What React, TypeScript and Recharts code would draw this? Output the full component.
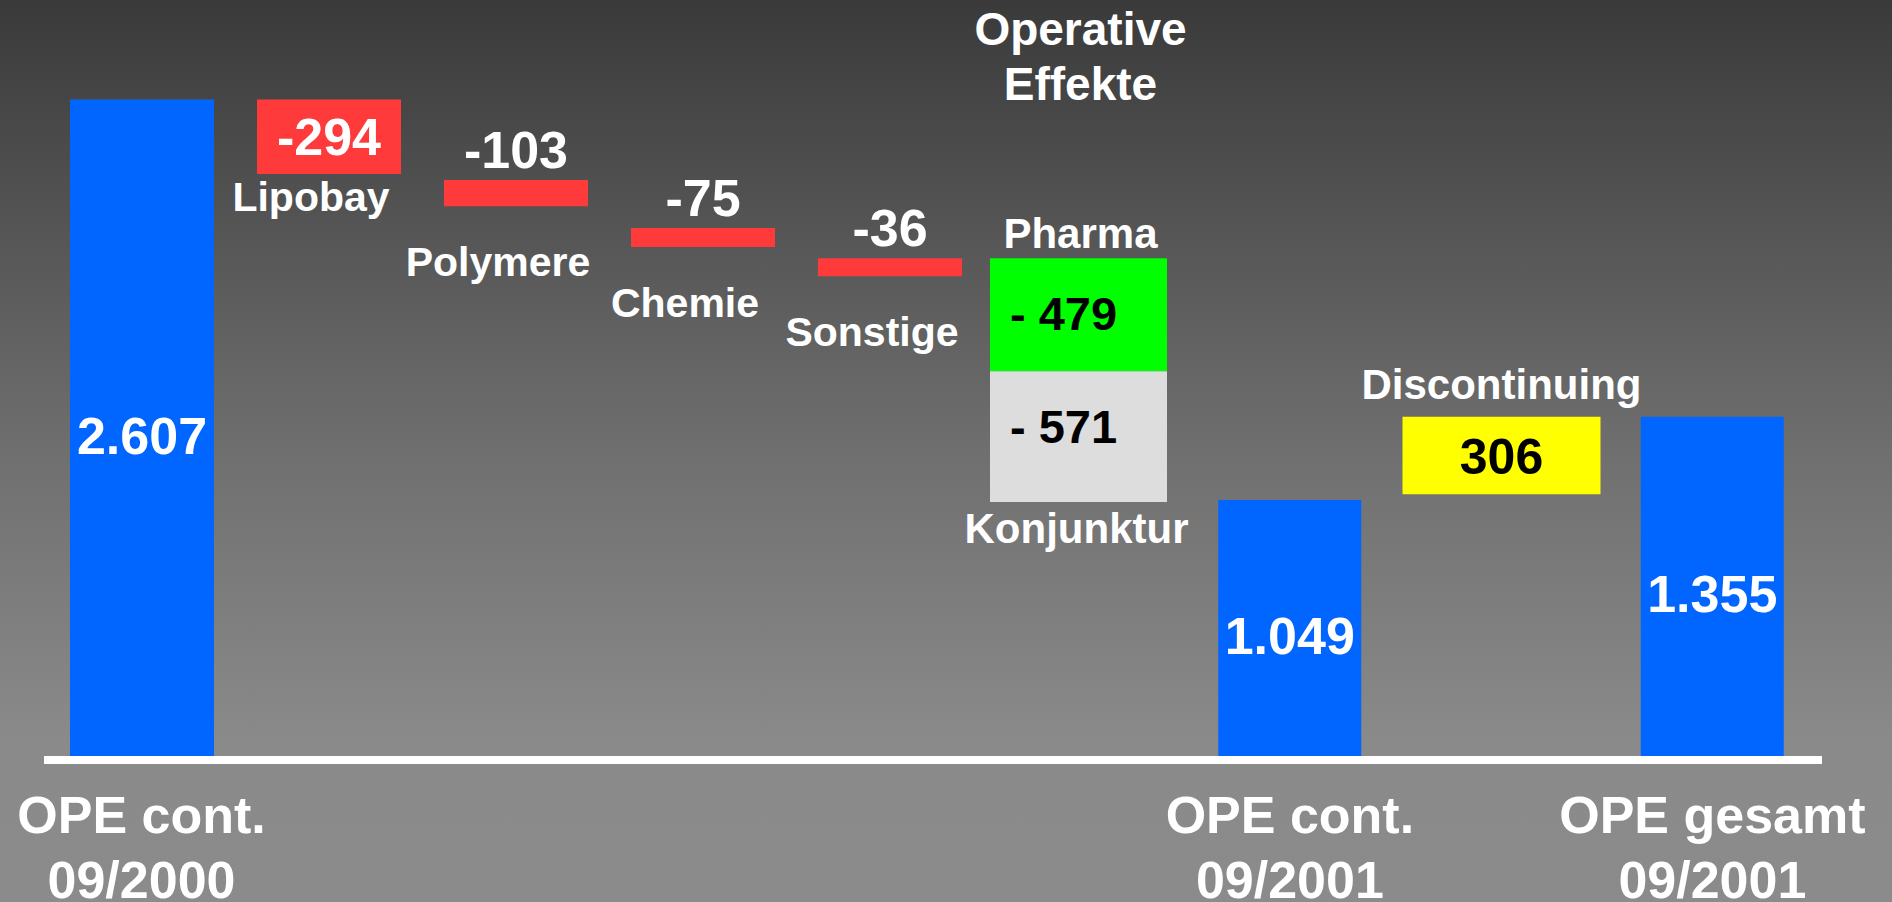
import React from 'react';
import { BarChart, Bar, XAxis, YAxis, Cell, LabelList } from 'recharts';

// ---------- data ----------
const leftCategories = ['OPE cont. 09/2000', 'Lipobay', 'Polymere', 'Chemie', 'Sonstige'];
const leftLow = [0, 2313, 2186, 2025, 1910];
const leftHigh = [2607, 2607, 2289, 2100, 1981];
const leftValueText = ['2.607', '-294', '-103', '-75', '-36'];
const leftCaptions = ['', 'Lipobay', 'Polymere', 'Chemie', 'Sonstige'];
const leftTickLines = [['OPE cont.', '09/2000'], [], [], [], []];

const rightCategories = ['Operative Effekte', 'OPE cont. 09/2001', 'Discontinuing', 'OPE gesamt 09/2001'];
const pharmaRange = [[1535, 1981], null, null, null];
const konjunkturRange = [[1018, 1535], null, null, null];
const blueRange = [null, [0, 1026], null, [0, 1355]];
const discontinuingRange = [null, null, [1049, 1355], null];
const pharmaText = ['- 479', null, null, null];
const pharmaCaption = ['Pharma', null, null, null];
const konjunkturText = ['- 571', null, null, null];
const konjunkturCaption = ['Konjunktur', null, null, null];
const blueText = [null, '1.049', null, '1.355'];
const discontinuingText = [null, null, '306', null];
const discontinuingCaption = [null, null, 'Discontinuing', null];
const rightTickLines = [[], ['OPE cont.', '09/2001'], [], ['OPE gesamt', '09/2001']];
const titleLines = ['Operative', 'Effekte'];

const Y_DOMAIN: [number, number] = [0, 3000];

const leftData = leftCategories.map((cat, i) => ({
  cat,
  range: [leftLow[i], leftHigh[i]],
  valueText: leftValueText[i],
  caption: leftCaptions[i],
}));

const rightData = rightCategories.map((cat, i) => ({
  cat,
  pharma: pharmaRange[i],
  konj: konjunkturRange[i],
  blue: blueRange[i],
  disc: discontinuingRange[i],
  pharmaText: pharmaText[i],
  pharmaCaption: pharmaCaption[i],
  konjText: konjunkturText[i],
  konjCaption: konjunkturCaption[i],
  blueText: blueText[i],
  discText: discontinuingText[i],
  discCaption: discontinuingCaption[i],
}));

// ---------- styles ----------
const FONT = "'Liberation Sans', Arial, Helvetica, sans-serif";
const BLUE = '#0066ff';
const RED = '#ff3a3a';
const GREEN = '#00ff00';
const GREY = '#dddddd';
const YELLOW = '#ffff00';

function geom(props: any) {
  const vb = props.viewBox && props.viewBox.width != null ? props.viewBox : props;
  const x = Number(vb.x);
  const y = Number(vb.y);
  const w = Number(vb.width);
  const h = Number(vb.height);
  const top = Math.min(y, y + h);
  const bottom = Math.max(y, y + h);
  return { left: x, cx: x + w / 2, top, bottom, cy: (top + bottom) / 2, h: bottom - top, w, ok: isFinite(top) && isFinite(x) && h > 0 };
}

const txt = (x: number, y: number, s: string, size: number, fill = '#fff', anchor = 'middle', key?: any) => (
  <text key={key} x={x} y={y} textAnchor={anchor as any} fill={fill} fontSize={size} fontWeight="bold" fontFamily={FONT}>
    {s}
  </text>
);

const LeftValueLabel = (props: any) => {
  if (props.value == null || props.value === '') return null;
  const g = geom(props);
  if (!g.ok) return null;
  let yy;
  if (g.h > 300) yy = g.cy + 24;
  else if (g.h > 60) yy = g.cy + 18;
  else yy = g.top - 12;
  return txt(g.cx, yy, String(props.value), 52);
};

const LeftCaptionLabel = (props: any) => {
  if (!props.value) return null;
  const g = geom(props);
  if (!g.ok) return null;
  const yy = g.h > 60 ? g.bottom + 37 : g.bottom + 70;
  return txt(g.cx - 18, yy, String(props.value), 41);
};

const PharmaCaptionLabel = (props: any) => {
  if (!props.value) return null;
  const g = geom(props);
  if (!g.ok) return null;
  return (
    <g>
      {txt(g.cx + 2, g.top - 213, titleLines[0], 46)}
      {txt(g.cx + 2, g.top - 158, titleLines[1], 46)}
      {txt(g.cx + 2, g.top - 10, String(props.value), 42)}
    </g>
  );
};

const BoxValueLabel = (props: any) => {
  if (!props.value) return null;
  const g = geom(props);
  if (!g.ok) return null;
  return txt(g.left + 20, g.top + 72, String(props.value), 47, '#000', 'start');
};

const KonjCaptionLabel = (props: any) => {
  if (!props.value) return null;
  const g = geom(props);
  if (!g.ok) return null;
  return txt(g.cx - 2, g.bottom + 41, String(props.value), 42);
};

const BlueValueLabel = (props: any) => {
  if (!props.value) return null;
  const g = geom(props);
  if (!g.ok) return null;
  return txt(g.cx, g.cy + 24, String(props.value), 52);
};

const DiscValueLabel = (props: any) => {
  if (!props.value) return null;
  const g = geom(props);
  if (!g.ok) return null;
  return txt(g.cx, g.cy + 18.5, String(props.value), 50, '#000');
};

const DiscCaptionLabel = (props: any) => {
  if (!props.value) return null;
  const g = geom(props);
  if (!g.ok) return null;
  return txt(g.cx, g.top - 18, String(props.value), 42);
};

const makeTick = (lines: string[][]) => (props: any) => {
  const { x, y } = props;
  const idx = props.payload && props.payload.index != null ? props.payload.index : props.index;
  const l = lines[idx] || [];
  return <g>{l.map((t, k) => txt(x, y + 73 + k * 65, t, 52, '#fff', 'middle', k))}</g>;
};

const W = 1892;
const H = 902;
const MARGIN = { top: 0, right: 70, bottom: 0, left: 44 };
const AXIS_H = 142;
const RIGHT_PAD = { left: 929, right: 4 };

export default function App() {
  return (
    <div
      style={{
        position: 'absolute',
        left: 0,
        top: 0,
        width: W,
        height: H,
        overflow: 'hidden',
        background: 'linear-gradient(to bottom, #3a3a3a 0px, #6f6f6f 451px, #8a8a8a 740px, #8b8b8b 902px)',
      }}
    >
      <div style={{ position: 'absolute', left: 0, top: 0 }}>
        <BarChart width={W} height={H} data={leftData} margin={MARGIN}>
          <XAxis
            dataKey="cat"
            height={AXIS_H}
            interval={0}
            tickLine={false}
            tickSize={0}
            tickMargin={0}
            axisLine={false}
            padding={{ left: 4, right: 839 }}
            tick={makeTick(leftTickLines)}
          />
          <YAxis hide domain={Y_DOMAIN} />
          <Bar dataKey={(d: any) => d.range} barSize={144} isAnimationActive={false}>
            {leftData.map((_, i) => (
              <Cell key={i} fill={i === 0 ? BLUE : RED} />
            ))}
            <LabelList dataKey="valueText" content={LeftValueLabel} />
            <LabelList dataKey="caption" content={LeftCaptionLabel} />
          </Bar>
        </BarChart>
      </div>
      <div style={{ position: 'absolute', left: 0, top: 0 }}>
        <BarChart width={W} height={H} data={rightData} margin={MARGIN}>
          <XAxis
            xAxisId="n"
            dataKey="cat"
            height={AXIS_H}
            interval={0}
            tickLine={false}
            tickSize={0}
            tickMargin={0}
            axisLine={{ stroke: '#ffffff', strokeWidth: 8 }}
            padding={RIGHT_PAD}
            tick={makeTick(rightTickLines)}
          />
          <XAxis xAxisId="p" dataKey="cat" hide height={0} padding={RIGHT_PAD} />
          <XAxis xAxisId="k" dataKey="cat" hide height={0} padding={RIGHT_PAD} />
          <XAxis xAxisId="d" dataKey="cat" hide height={0} padding={RIGHT_PAD} />
          <YAxis hide domain={Y_DOMAIN} />
          <Bar xAxisId="p" dataKey={(d: any) => d.pharma} fill={GREEN} barSize={177} isAnimationActive={false}>
            <LabelList dataKey="pharmaText" content={BoxValueLabel} />
            <LabelList dataKey="pharmaCaption" content={PharmaCaptionLabel} />
          </Bar>
          <Bar xAxisId="k" dataKey={(d: any) => d.konj} fill={GREY} barSize={177} isAnimationActive={false}>
            <LabelList dataKey="konjText" content={BoxValueLabel} />
            <LabelList dataKey="konjCaption" content={KonjCaptionLabel} />
          </Bar>
          <Bar xAxisId="d" dataKey={(d: any) => d.disc} fill={YELLOW} barSize={198} isAnimationActive={false}>
            <LabelList dataKey="discText" content={DiscValueLabel} />
            <LabelList dataKey="discCaption" content={DiscCaptionLabel} />
          </Bar>
          <Bar xAxisId="n" dataKey={(d: any) => d.blue} fill={BLUE} barSize={143} isAnimationActive={false}>
            <LabelList dataKey="blueText" content={BlueValueLabel} />
          </Bar>
        </BarChart>
      </div>
    </div>
  );
}
